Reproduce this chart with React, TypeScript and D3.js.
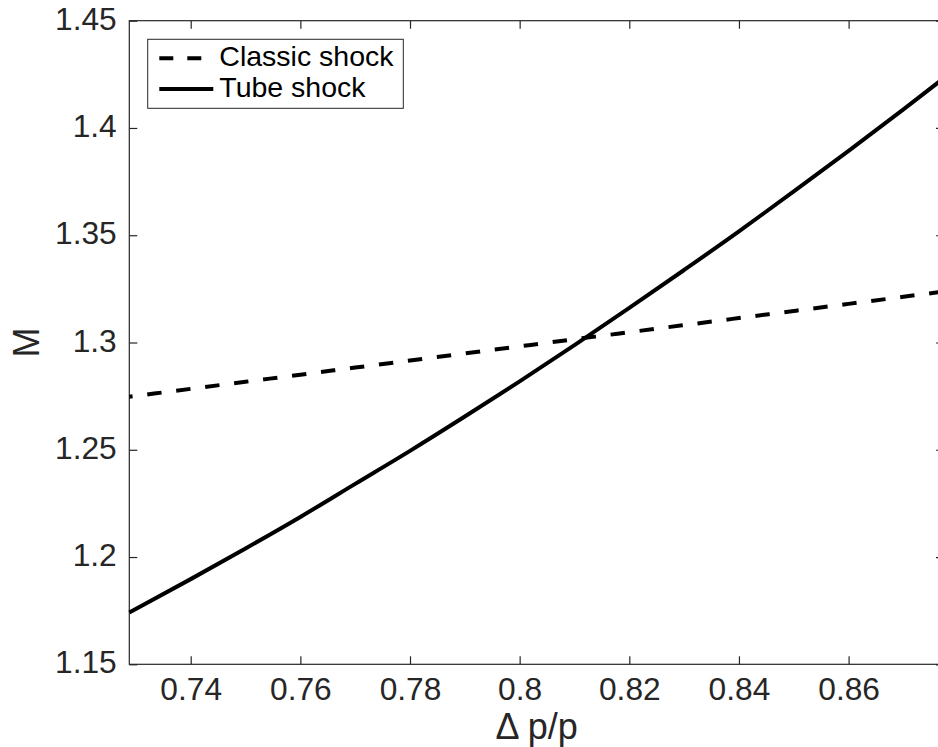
import React, { useEffect, useRef } from 'react';
import * as d3 from 'd3';

// Δp/p samples and the two Mach number curves
const pressureRatio = [0.7288, 0.74, 0.75, 0.76, 0.77, 0.78, 0.79, 0.80, 0.81, 0.82, 0.83, 0.84, 0.85, 0.86, 0.87, 0.8774];
const classicShock = [1.2747, 1.2784, 1.2817, 1.2850, 1.2883, 1.2916, 1.2949, 1.2982, 1.3015, 1.3048, 1.3081, 1.3114, 1.3147, 1.3180, 1.3213, 1.3238];
const tubeShock = [1.1741, 1.1897, 1.2040, 1.2187, 1.2341, 1.2495, 1.2655, 1.2819, 1.2988, 1.3161, 1.3338, 1.3518, 1.3704, 1.3893, 1.4087, 1.4233];

const xTicks = [0.74, 0.76, 0.78, 0.8, 0.82, 0.84, 0.86];
const yTicks = [1.15, 1.2, 1.25, 1.3, 1.35, 1.4, 1.45];
const legendLabels = ['Classic shock', 'Tube shock'];

const FONT = '"Liberation Sans", Arial, Helvetica, sans-serif';
const AXIS_COLOR = '#262626';

export default function App() {
    const svgRef = useRef<SVGSVGElement>(null);

    useEffect(() => {
        if (!svgRef.current) return;
        const svg = d3.select(svgRef.current);
        svg.selectAll('*').remove();

        const left = 129.3, right = 944, top = 20.7, bottom = 664.3;
        const x = d3.scaleLinear().domain([0.7288, 0.8774]).range([left, right]);
        const y = d3.scaleLinear().domain([1.15, 1.45]).range([bottom, top]);
        const fmt = (d: d3.NumberValue) => String(+(+d).toFixed(2));

        const styleAxis = (g: d3.Selection<SVGGElement, unknown, null, undefined>) => {
            g.attr('font-family', FONT).attr('font-size', 31.7);
            g.select('.domain').remove();
            g.selectAll('.tick line').attr('stroke', AXIS_COLOR).attr('stroke-width', 1.2);
            g.selectAll('.tick text').attr('fill', AXIS_COLOR);
        };

        svg.append('g')
            .attr('transform', `translate(0,${bottom})`)
            .call(d3.axisBottom(x).tickValues(xTicks).tickFormat(fmt).tickSizeInner(-8).tickSizeOuter(0).tickPadding(13))
            .call(styleAxis);

        svg.append('g')
            .attr('transform', `translate(0,${top})`)
            .call(d3.axisTop(x).tickValues(xTicks).tickFormat(() => '').tickSizeInner(-8).tickSizeOuter(0))
            .call(styleAxis);

        const leftAxis = svg.append('g')
            .attr('transform', `translate(${left},0)`)
            .call(d3.axisLeft(y).tickValues(yTicks).tickFormat(fmt).tickSizeInner(-8).tickSizeOuter(0).tickPadding(12.6))
            .call(styleAxis);
        leftAxis.selectAll('.tick text').attr('dy', '0.27em');

        svg.append('g')
            .attr('transform', `translate(${right},0)`)
            .call(d3.axisRight(y).tickValues(yTicks).tickFormat(() => '').tickSizeInner(-8).tickSizeOuter(0))
            .call(styleAxis);

        svg.append('rect')
            .attr('x', left).attr('y', top)
            .attr('width', right - left).attr('height', bottom - top)
            .attr('fill', 'none')
            .attr('stroke', AXIS_COLOR)
            .attr('stroke-width', 1.2);

        // axis labels
        svg.append('text')
            .attr('x', (left + right) / 2)
            .attr('y', 739.3)
            .attr('text-anchor', 'middle')
            .attr('font-family', FONT)
            .attr('font-size', 36)
            .attr('fill', AXIS_COLOR)
            .text('Δ p/p');

        svg.append('text')
            .attr('transform', `translate(39,${(top + bottom) / 2}) rotate(-90)`)
            .attr('text-anchor', 'middle')
            .attr('font-family', FONT)
            .attr('font-size', 36)
            .attr('fill', AXIS_COLOR)
            .text('M');

        const line = d3.line<number>()
            .x((_, i) => x(pressureRatio[i]))
            .y(d => y(d))
            .curve(d3.curveMonotoneX);

        svg.append('path')
            .attr('d', line(classicShock))
            .attr('fill', 'none')
            .attr('stroke', '#000')
            .attr('stroke-width', 4)
            .attr('stroke-dasharray', '14.4 14.8')
            .attr('stroke-dashoffset', 11.1);

        svg.append('path')
            .attr('d', line(tubeShock))
            .attr('fill', 'none')
            .attr('stroke', '#000')
            .attr('stroke-width', 4);

        // legend
        const legend = svg.append('g');
        legend.append('rect')
            .attr('x', 147.7).attr('y', 39.3)
            .attr('width', 255.6).attr('height', 69)
            .attr('fill', '#fff')
            .attr('stroke', AXIS_COLOR)
            .attr('stroke-width', 1);

        const rows = [
            { label: legendLabels[0], dash: '14 14', ly: 58.3, ty: 66 },
            { label: legendLabels[1], dash: null, ly: 89, ty: 96.7 },
        ];
        rows.forEach(r => {
            legend.append('line')
                .attr('x1', 159.3).attr('x2', 213.3)
                .attr('y1', r.ly).attr('y2', r.ly)
                .attr('stroke', '#000')
                .attr('stroke-width', 4)
                .attr('stroke-dasharray', r.dash);
            legend.append('text')
                .attr('x', 219.3)
                .attr('y', r.ty)
                .attr('font-family', FONT)
                .attr('font-size', 28.5)
                .attr('fill', '#000')
                .text(r.label);
        });
    }, []);

    return (
        <div style={{ position: 'absolute', left: 0, top: 0 }}>
            <svg ref={svgRef} width={938} height={747} style={{ display: 'block', background: '#fff' }} />
        </div>
    );
}
